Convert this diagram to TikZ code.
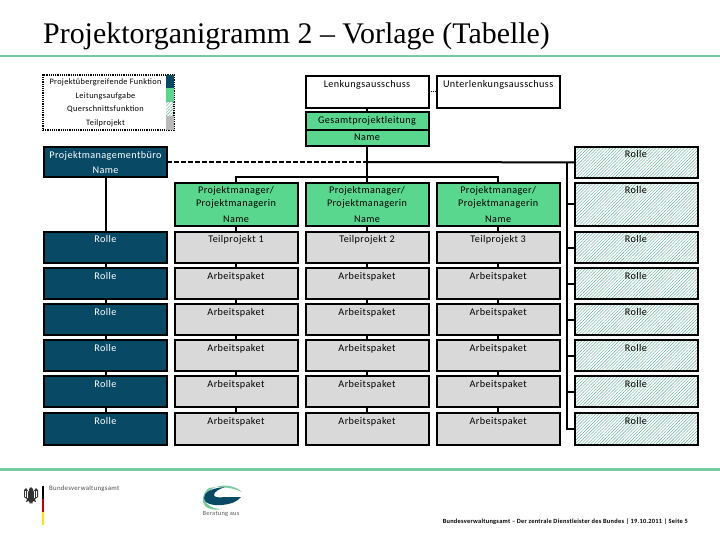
\documentclass[tikz,border=0pt]{standalone}
\usepackage{fontspec}
\setmainfont{Carlito}[LetterSpace=4]
\newfontfamily\titlefont{Liberation Serif}
\usetikzlibrary{patterns.meta}
\usetikzlibrary{positioning}
\definecolor{dunkel}{HTML}{084A66}
\definecolor{gruen}{HTML}{5AD78F}
\definecolor{grau}{HTML}{D9D9D9}
\definecolor{linie}{HTML}{76CC9E}
\tikzset{
    kasten/.style={draw, line width=2pt, outer sep=0pt, inner xsep=0pt, inner ysep=0pt, minimum width=123pt, anchor=north west, align=center, font=\fontsize{10.2}{13}\selectfont},
    zeile/.style={kasten, text height=11pt, text depth=20pt},
    rolle/.style={zeile, fill=dunkel, text=white},
    paket/.style={zeile, fill=grau},
    schraffur/.style={pattern={Lines[angle=45,distance=2.2pt,line width=.4pt]}, pattern color=linie!75!dunkel},
    quer/.style={zeile, schraffur},
    leitung/.style={kasten, fill=gruen},
    chef/.style={leitung, minimum height=43pt},
    legende/.style={font=\fontsize{8.3}{9}\selectfont, inner sep=0pt},
    feld/.style={minimum width=8pt, inner sep=0pt, outer sep=0pt, anchor=north west},
    link/.style={line width=2pt}
}
\begin{document}
\begin{tikzpicture}[x=1pt,y=-1pt]
        \useasboundingbox (0,0) rectangle (720,540);

        \node (titel)[anchor=base west, inner sep=0pt, font=\titlefont\fontsize{29.9}{32}\selectfont] at (43,44) {Projektorganigramm 2 – Vorlage (Tabelle)};
        \draw[linie, line width=2.5pt] (0,56) -- (720,56);
        \draw[linie, line width=3pt] (0,469.5) -- (720,469.5);

        % Legende
        \node (lg)[draw, densely dotted, line width=1.2pt, minimum width=131pt, minimum height=55pt, inner sep=0pt, outer sep=0pt, anchor=north west] at (43,75) {};
        \node (f1)[feld, fill=dunkel, minimum height=13pt] at (166,75.5) {};
        \node (f2)[feld, fill=gruen, minimum height=14pt] at (166,88) {};
        \node (f3)[feld, schraffur, minimum height=14pt] at (166,102) {};
        \node (f4)[feld, fill=grau!85!black, minimum height=14pt] at (166,116) {};
        \node (t1)[legende] at (105.5,82.5) {Projektübergreifende Funktion};
        \node (t2)[legende] at (105.5,96) {Leitungsaufgabe};
        \node (t3)[legende] at (105.5,109.5) {Querschnittsfunktion};
        \node (t4)[legende] at (105.5,123) {Teilprojekt};

        % oben
        \node (lenk)[kasten, text height=12pt, text depth=20pt] at (305.5,76) {Lenkungsausschuss};
        \node (unter)[kasten, text height=12pt, text depth=20pt] at (436.7,76) {Unterlenkungsausschuss};
        \node (gl)[leitung, text height=12pt, text depth=6pt] at (305.5,112) {Gesamtprojektleitung};
        \node (gn)[leitung, text height=11pt, text depth=5pt] at (305.5,130) {Name};
        \node (pmb)[kasten, fill=dunkel, text=white, minimum height=30pt] at (44,147) {Projektmanagementbüro\\[2pt]Name};

        % Spalte links
        \node (l1)[rolle] at (44,232) {Rolle};
        \node (l2)[rolle] at (44,268) {Rolle};
        \node (l3)[rolle] at (44,304) {Rolle};
        \node (l4)[rolle] at (44,340) {Rolle};
        \node (l5)[rolle] at (44,376) {Rolle};
        \node (l6)[rolle, text depth=21pt] at (44,413) {Rolle};

        % Teilprojekt 1
        \node (m1)[chef] at (174.5,183) {Projektmanager/\\Projektmanagerin\\[3pt]Name};
        \node (a1)[paket] at (174.5,232) {Teilprojekt 1};
        \node (a2)[paket] at (174.5,268) {Arbeitspaket};
        \node (a3)[paket] at (174.5,304) {Arbeitspaket};
        \node (a4)[paket] at (174.5,340) {Arbeitspaket};
        \node (a5)[paket] at (174.5,376) {Arbeitspaket};
        \node (a6)[paket, text depth=21pt] at (174.5,413) {Arbeitspaket};

        % Teilprojekt 2
        \node (m2)[chef] at (305.5,183) {Projektmanager/\\Projektmanagerin\\[3pt]Name};
        \node (b1)[paket] at (305.5,232) {Teilprojekt 2};
        \node (b2)[paket] at (305.5,268) {Arbeitspaket};
        \node (b3)[paket] at (305.5,304) {Arbeitspaket};
        \node (b4)[paket] at (305.5,340) {Arbeitspaket};
        \node (b5)[paket] at (305.5,376) {Arbeitspaket};
        \node (b6)[paket, text depth=21pt] at (305.5,413) {Arbeitspaket};

        % Teilprojekt 3
        \node (m3)[chef] at (436.7,183) {Projektmanager/\\Projektmanagerin\\[3pt]Name};
        \node (c1)[paket] at (436.7,232) {Teilprojekt 3};
        \node (c2)[paket] at (436.7,268) {Arbeitspaket};
        \node (c3)[paket] at (436.7,304) {Arbeitspaket};
        \node (c4)[paket] at (436.7,340) {Arbeitspaket};
        \node (c5)[paket] at (436.7,376) {Arbeitspaket};
        \node (c6)[paket, text depth=21pt] at (436.7,413) {Arbeitspaket};

        % Spalte rechts
        \node (r0)[quer] at (574.5,147) {Rolle};
        \node (r1)[quer, text depth=32pt] at (574.5,183) {Rolle};
        \node (r2)[quer] at (574.5,232) {Rolle};
        \node (r3)[quer] at (574.5,268) {Rolle};
        \node (r4)[quer] at (574.5,304) {Rolle};
        \node (r5)[quer] at (574.5,340) {Rolle};
        \node (r6)[quer] at (574.5,376) {Rolle};
        \node (r7)[quer, text depth=21pt] at (574.5,413) {Rolle};

        \coordinate (kreuz) at (gn.south |- pmb.east);
        \coordinate (steg) at (367,177.5);
        \coordinate (bus) at (567,162);

        \draw[link] (lenk) -- (gl);
        \draw[link] (gn) -- (m2);
        \draw[link] (kreuz) -- (r0);
        \draw[link, dash pattern=on 5pt off 2pt] (pmb) -- (kreuz);
        \draw[link] (m1.north) |- (steg) -| (m3.north);
        \draw[densely dotted, line width=1pt] (lenk) -- (unter);

        \draw[link] (pmb) -- (l1);
        \draw[link] (l1) -- (l2);
        \draw[link] (l2) -- (l3);
        \draw[link] (l3) -- (l4);
        \draw[link] (l4) -- (l5);
        \draw[link] (l5) -- (l6);

        \draw[link] (m1) -- (a1);
        \draw[link] (a1) -- (a2);
        \draw[link] (a2) -- (a3);
        \draw[link] (a3) -- (a4);
        \draw[link] (a4) -- (a5);
        \draw[link] (a5) -- (a6);

        \draw[link] (m2) -- (b1);
        \draw[link] (b1) -- (b2);
        \draw[link] (b2) -- (b3);
        \draw[link] (b3) -- (b4);
        \draw[link] (b4) -- (b5);
        \draw[link] (b5) -- (b6);

        \draw[link] (m3) -- (c1);
        \draw[link] (c1) -- (c2);
        \draw[link] (c2) -- (c3);
        \draw[link] (c3) -- (c4);
        \draw[link] (c4) -- (c5);
        \draw[link] (c5) -- (c6);

        \draw[link] (bus) |- (r7.west);
        \draw[link] (bus |- r1.west) -- (r1.west);
        \draw[link] (bus |- r2.west) -- (r2.west);
        \draw[link] (bus |- r3.west) -- (r3.west);
        \draw[link] (bus |- r4.west) -- (r4.west);
        \draw[link] (bus |- r5.west) -- (r5.west);
        \draw[link] (bus |- r6.west) -- (r6.west);

        % Logos
        \fill[black!80] (31,487) -- (33,489) -- (33,492) -- (36,488) -- (38,490) -- (38,497) -- (35,499) -- (36,502) -- (33,501) -- (32,504) -- (31,502) -- (30,504) -- (29,501) -- (26,502) -- (27,499) -- (24,497) -- (24,490) -- (26,488) -- (29,492) -- (29,489) -- cycle;
        \draw[white, line width=.4pt] (25.5,491) -- (25.5,497) (27.5,491) -- (27.5,498) (34.5,491) -- (34.5,498) (36.5,491) -- (36.5,497);
        \fill[black] (42,486) rectangle (44,499);
        \fill[red!80!black] (42,499) rectangle (44,512);
        \fill[yellow!85!orange] (42,512) rectangle (44,525);
        \node (bva)[anchor=west, inner sep=0pt, text=black!70, font=\fontsize{6.8}{8}\selectfont] at (49,489) {Bundesverwaltungsamt};

        \fill[linie] (209,488) .. controls (201,494) and (201,505) .. (208,508) .. controls (212,510) and (218,510) .. (222,509) .. controls (214,509) and (206,506) .. (205,499) .. controls (205,494) and (208,490) .. (216,487) -- (209,488);
        \fill[linie] (216,487) .. controls (224,484) and (236,486) .. (242,492) .. controls (234,488) and (224,487) .. (216,487);
        \fill[dunkel] (225,487) .. controls (212,488) and (204,492) .. (204,498) .. controls (204,503) and (212,506) .. (222,505) .. controls (232,504) and (238,501) .. (241,497) -- (225,497) .. controls (218,498) and (214,497) .. (214,495) .. controls (214,492) and (219,489) .. (225,487);
        \node (ba)[anchor=center, inner sep=0pt, text=black!65, font=\fontsize{6.4}{8}\selectfont] at (221,514) {Beratung aus};

        \node (fuss)[anchor=east, inner sep=0pt, font=\bfseries\fontsize{6.4}{8}\selectfont] at (688,522) {Bundesverwaltungsamt – Der zentrale Dienstleister des Bundes | 19.10.2011 | Seite 5};

    \end{tikzpicture}
\end{document}
